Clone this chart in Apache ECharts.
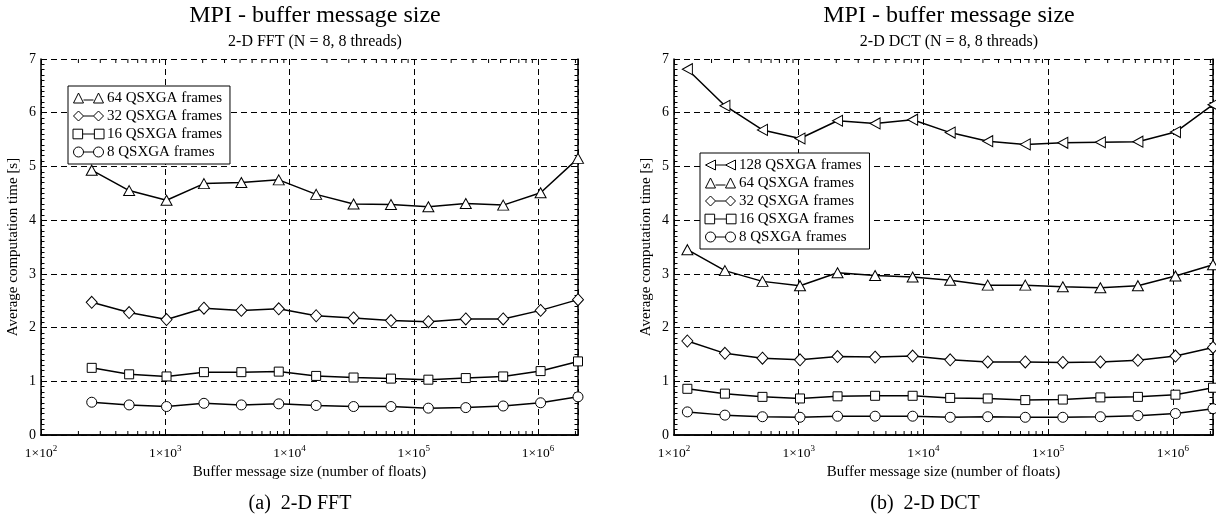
<!DOCTYPE html>
<html>
<head>
<meta charset="utf-8">
<script src="https://cdn.jsdelivr.net/npm/echarts@6/dist/echarts.min.js"></script>
<style>
  html, body { margin: 0; padding: 0; background: #fff; }
  #chart { width: 1216px; height: 519px; }
</style>
</head>
<body>
<div id="chart"></div>
<script>
// buffer sizes (number of floats)
const fftSizes = [256, 512, 1024, 2048, 4096, 8192, 16384, 32768, 65536, 131072, 262144, 524288, 1048576, 2097152];
const dctSizes = [128, 256, 512, 1024, 2048, 4096, 8192, 16384, 32768, 65536, 131072, 262144, 524288, 1048576, 2097152];

// 2-D FFT, average computation time [s]
const fft64 = [4.93, 4.55, 4.37, 4.68, 4.70, 4.75, 4.48, 4.30, 4.29, 4.25, 4.31, 4.28, 4.51, 5.15];
const fft32 = [2.47, 2.28, 2.15, 2.36, 2.32, 2.35, 2.22, 2.18, 2.13, 2.11, 2.16, 2.16, 2.32, 2.52];
const fft16 = [1.25, 1.13, 1.09, 1.17, 1.17, 1.18, 1.10, 1.07, 1.05, 1.03, 1.06, 1.09, 1.19, 1.37];
const fft8 = [0.61, 0.56, 0.53, 0.59, 0.56, 0.58, 0.55, 0.53, 0.53, 0.50, 0.51, 0.54, 0.60, 0.71];

// 2-D DCT, average computation time [s]
const dct128 = [6.81, 6.13, 5.68, 5.52, 5.85, 5.80, 5.87, 5.63, 5.47, 5.41, 5.44, 5.45, 5.46, 5.64, 6.15];
const dct64 = [3.45, 3.06, 2.86, 2.78, 3.02, 2.97, 2.94, 2.88, 2.79, 2.79, 2.76, 2.74, 2.78, 2.96, 3.17];
const dct32 = [1.75, 1.52, 1.43, 1.40, 1.46, 1.45, 1.47, 1.40, 1.36, 1.36, 1.35, 1.36, 1.39, 1.47, 1.63];
const dct16 = [0.86, 0.77, 0.71, 0.68, 0.72, 0.73, 0.73, 0.69, 0.68, 0.65, 0.66, 0.70, 0.71, 0.75, 0.88];
const dct8 = [0.43, 0.37, 0.34, 0.33, 0.35, 0.35, 0.35, 0.33, 0.34, 0.33, 0.33, 0.34, 0.36, 0.40, 0.49];

const names = ['128 QSXGA frames', '64 QSXGA frames', '32 QSXGA frames', '16 QSXGA frames', '8 QSXGA frames'];
const yTicks = [0, 1, 2, 3, 4, 5, 6, 7];
const xMin = 100, xMax = 2097152;

// minor ticks of the log axis: 2..9 x 10^k
const minorX = [];
for (let k = 2; k <= 6; k++) {
  for (let m = 2; m <= 9; m++) {
    if (m * Math.pow(10, k) < xMax) minorX.push([m * Math.pow(10, k), 0]);
  }
}

const FONT = 'Liberation Serif, Times New Roman, serif';
const zip = (xs, ys) => xs.map((x, i) => [x, ys[i]]);

// legend icons: marker - line - marker
const icons = {
  '128 QSXGA frames': 'path://M10 0 L0 5 L10 10 Z M10 5 L20 5 M30 0 L20 5 L30 10 Z',
  '64 QSXGA frames': 'path://M0 10 L5 0 L10 10 Z M10 7 L20 7 M20 10 L25 0 L30 10 Z',
  '32 QSXGA frames': 'path://M0 5 L5 0 L10 5 L5 10 Z M10 5 L20 5 M20 5 L25 0 L30 5 L25 10 Z',
  '16 QSXGA frames': 'path://M0.5 0.5 L9.5 0.5 L9.5 9.5 L0.5 9.5 Z M9.5 5 L20.5 5 M20.5 0.5 L29.5 0.5 L29.5 9.5 L20.5 9.5 Z',
  '8 QSXGA frames': 'path://M0 5 A5 5 0 1 0 10 5 A5 5 0 1 0 0 5 Z M10 5 L20 5 M20 5 A5 5 0 1 0 30 5 A5 5 0 1 0 20 5 Z'
};

const markers = {
  '128 QSXGA frames': { symbol: 'triangle', symbolSize: [11, 10], symbolRotate: 90 },
  '64 QSXGA frames': { symbol: 'triangle', symbolSize: [11, 10], symbolRotate: 0 },
  '32 QSXGA frames': { symbol: 'diamond', symbolSize: [11, 12], symbolRotate: 0 },
  '16 QSXGA frames': { symbol: 'rect', symbolSize: [9, 9], symbolRotate: 0 },
  '8 QSXGA frames': { symbol: 'circle', symbolSize: 10, symbolRotate: 0 }
};

function lineSeries(name, xs, ys, axisIdx) {
  const mk = markers[name];
  return {
    name: name,
    type: 'line',
    xAxisIndex: axisIdx,
    yAxisIndex: axisIdx,
    data: zip(xs, ys),
    symbol: mk.symbol,
    symbolSize: mk.symbolSize,
    symbolRotate: mk.symbolRotate,
    showAllSymbol: true,
    lineStyle: { color: '#000', width: 1.5 },
    itemStyle: { color: '#fff', borderColor: '#000', borderWidth: 1 },
    z: 5
  };
}

function tickSeries(axisIdx) {
  return {
    type: 'custom',
    xAxisIndex: axisIdx,
    yAxisIndex: axisIdx,
    silent: true,
    data: minorX,
    renderItem: function (params, api) {
      const b = api.coord([api.value(0), 0]);
      const t = api.coord([api.value(0), 7]);
      return {
        type: 'group',
        children: [
          { type: 'line', shape: { x1: b[0], y1: b[1], x2: b[0], y2: b[1] - 4 }, style: { stroke: '#000', lineWidth: 1 } },
          { type: 'line', shape: { x1: t[0], y1: t[1], x2: t[0], y2: t[1] + 4 }, style: { stroke: '#000', lineWidth: 1 } }
        ]
      };
    }
  };
}

function xLabel(v) {
  const k = Math.round(Math.log10(v));
  if (Math.abs(v - Math.pow(10, k)) > 1e-6 * v) return '';
  return '{b|1×10}{s|' + k + '}';
}

const dash = [6, 4];

function mainX(gridIdx) {
  return {
    type: 'log', gridIndex: gridIdx, position: 'bottom', min: xMin, max: xMax, logBase: 10,
    name: 'Buffer message size (number of floats)', nameLocation: 'middle', nameGap: 25,
    nameTextStyle: { fontFamily: FONT, fontSize: 15, color: '#000' },
    axisLine: { show: true, lineStyle: { color: '#000', width: 1.5 } },
    axisTick: { show: false },
    axisLabel: {
      formatter: xLabel, margin: 9, showMaxLabel: false,
      rich: {
        b: { fontFamily: FONT, fontSize: 13.5, color: '#000', lineHeight: 16, verticalAlign: 'bottom' },
        s: { fontFamily: FONT, fontSize: 9, color: '#000', lineHeight: 16, verticalAlign: 'top' }
      }
    },
    splitLine: { show: true, lineStyle: { color: '#000', type: dash, width: 1 } }
  };
}

function topX(gridIdx) {
  return {
    type: 'log', gridIndex: gridIdx, position: 'top', min: xMin, max: xMax, logBase: 10,
    axisLine: { show: true, lineStyle: { color: '#000', width: 1.5 } },
    axisTick: { show: false }, axisLabel: { show: false }, splitLine: { show: false }
  };
}

function leftY(gridIdx) {
  return {
    type: 'value', gridIndex: gridIdx, position: 'left', min: yTicks[0], max: yTicks[yTicks.length - 1], interval: 1,
    name: 'Average computation time [s]', nameLocation: 'middle', nameGap: 20,
    nameTextStyle: { fontFamily: FONT, fontSize: 15, color: '#000' },
    axisLine: { show: true, lineStyle: { color: '#000', width: 1.5 } },
    axisTick: { show: true, inside: true, length: 6, lineStyle: { color: '#000' } },
    minorTick: { show: true, splitNumber: 10, length: 3.5, lineStyle: { color: '#000' } },
    axisLabel: { fontFamily: FONT, fontSize: 14, color: '#000', margin: 5 },
    splitLine: { show: true, lineStyle: { color: '#000', type: dash, width: 1 } }
  };
}

function rightY(gridIdx) {
  return {
    type: 'value', gridIndex: gridIdx, position: 'right', min: yTicks[0], max: yTicks[yTicks.length - 1], interval: 1,
    axisLine: { show: true, lineStyle: { color: '#000', width: 1.5 } },
    axisTick: { show: true, inside: true, length: 6, lineStyle: { color: '#000' } },
    minorTick: { show: true, splitNumber: 10, length: 3.5, lineStyle: { color: '#000' } },
    axisLabel: { show: false }, splitLine: { show: false }
  };
}

function legendFor(list, left, top) {
  return {
    orient: 'vertical', left: left, top: top,
    data: list.map(n => ({ name: n, icon: icons[n] })),
    itemWidth: 31, itemHeight: 10, itemGap: 3, padding: [4.5, 8, 4.5, 4.5],
    backgroundColor: '#fff', borderColor: '#000', borderWidth: 1, borderRadius: 0,
    itemStyle: { color: '#fff', borderColor: '#000', borderWidth: 1 },
    textStyle: { fontFamily: FONT, fontSize: 15, color: '#000', padding: [0, 0, 0, -2] },
    selectedMode: false
  };
}

const titleStyle = { fontFamily: FONT, fontSize: 24, fontWeight: 'normal', color: '#000' };
const subStyle = { fontFamily: FONT, fontSize: 16, color: '#000' };
const capStyle = { fontFamily: FONT, fontSize: 20, fontWeight: 'normal', color: '#000' };

let chart = echarts.init(document.getElementById('chart'));
let option = {
  backgroundColor: '#fff',
  animation: false,
  title: [
    { text: 'MPI - buffer message size', subtext: '2-D FFT (N = 8, 8 threads)', left: 310, top: 0, padding: [3.5, 5, 0, 5], textAlign: 'center', itemGap: 6.5, textStyle: titleStyle, subtextStyle: subStyle },
    { text: 'MPI - buffer message size', subtext: '2-D DCT (N = 8, 8 threads)', left: 944, top: 0, padding: [3.5, 5, 0, 5], textAlign: 'center', itemGap: 6.5, textStyle: titleStyle, subtextStyle: subStyle },
    { text: '(a)  2-D FFT', left: 300, top: 494, padding: 0, textAlign: 'center', textStyle: capStyle },
    { text: '(b)  2-D DCT', left: 925, top: 494, padding: 0, textAlign: 'center', textStyle: capStyle }
  ],
  legend: [
    legendFor(names.slice(1), 68, 86),
    legendFor(names, 700, 153)
  ],
  grid: [
    { left: 41, top: 59, width: 537, height: 376, show: false },
    { left: 674, top: 59, width: 539, height: 376, show: false }
  ],
  xAxis: [mainX(0), topX(0), mainX(1), topX(1)],
  yAxis: [leftY(0), rightY(0), leftY(1), rightY(1)],
  series: [
    tickSeries(0),
    tickSeries(2),
    lineSeries(names[1], fftSizes, fft64, 0),
    lineSeries(names[2], fftSizes, fft32, 0),
    lineSeries(names[3], fftSizes, fft16, 0),
    lineSeries(names[4], fftSizes, fft8, 0),
    lineSeries(names[0], dctSizes, dct128, 2),
    lineSeries(names[1], dctSizes, dct64, 2),
    lineSeries(names[2], dctSizes, dct32, 2),
    lineSeries(names[3], dctSizes, dct16, 2),
    lineSeries(names[4], dctSizes, dct8, 2)
  ]
};
chart.setOption(option);
</script>
</body>
</html>
